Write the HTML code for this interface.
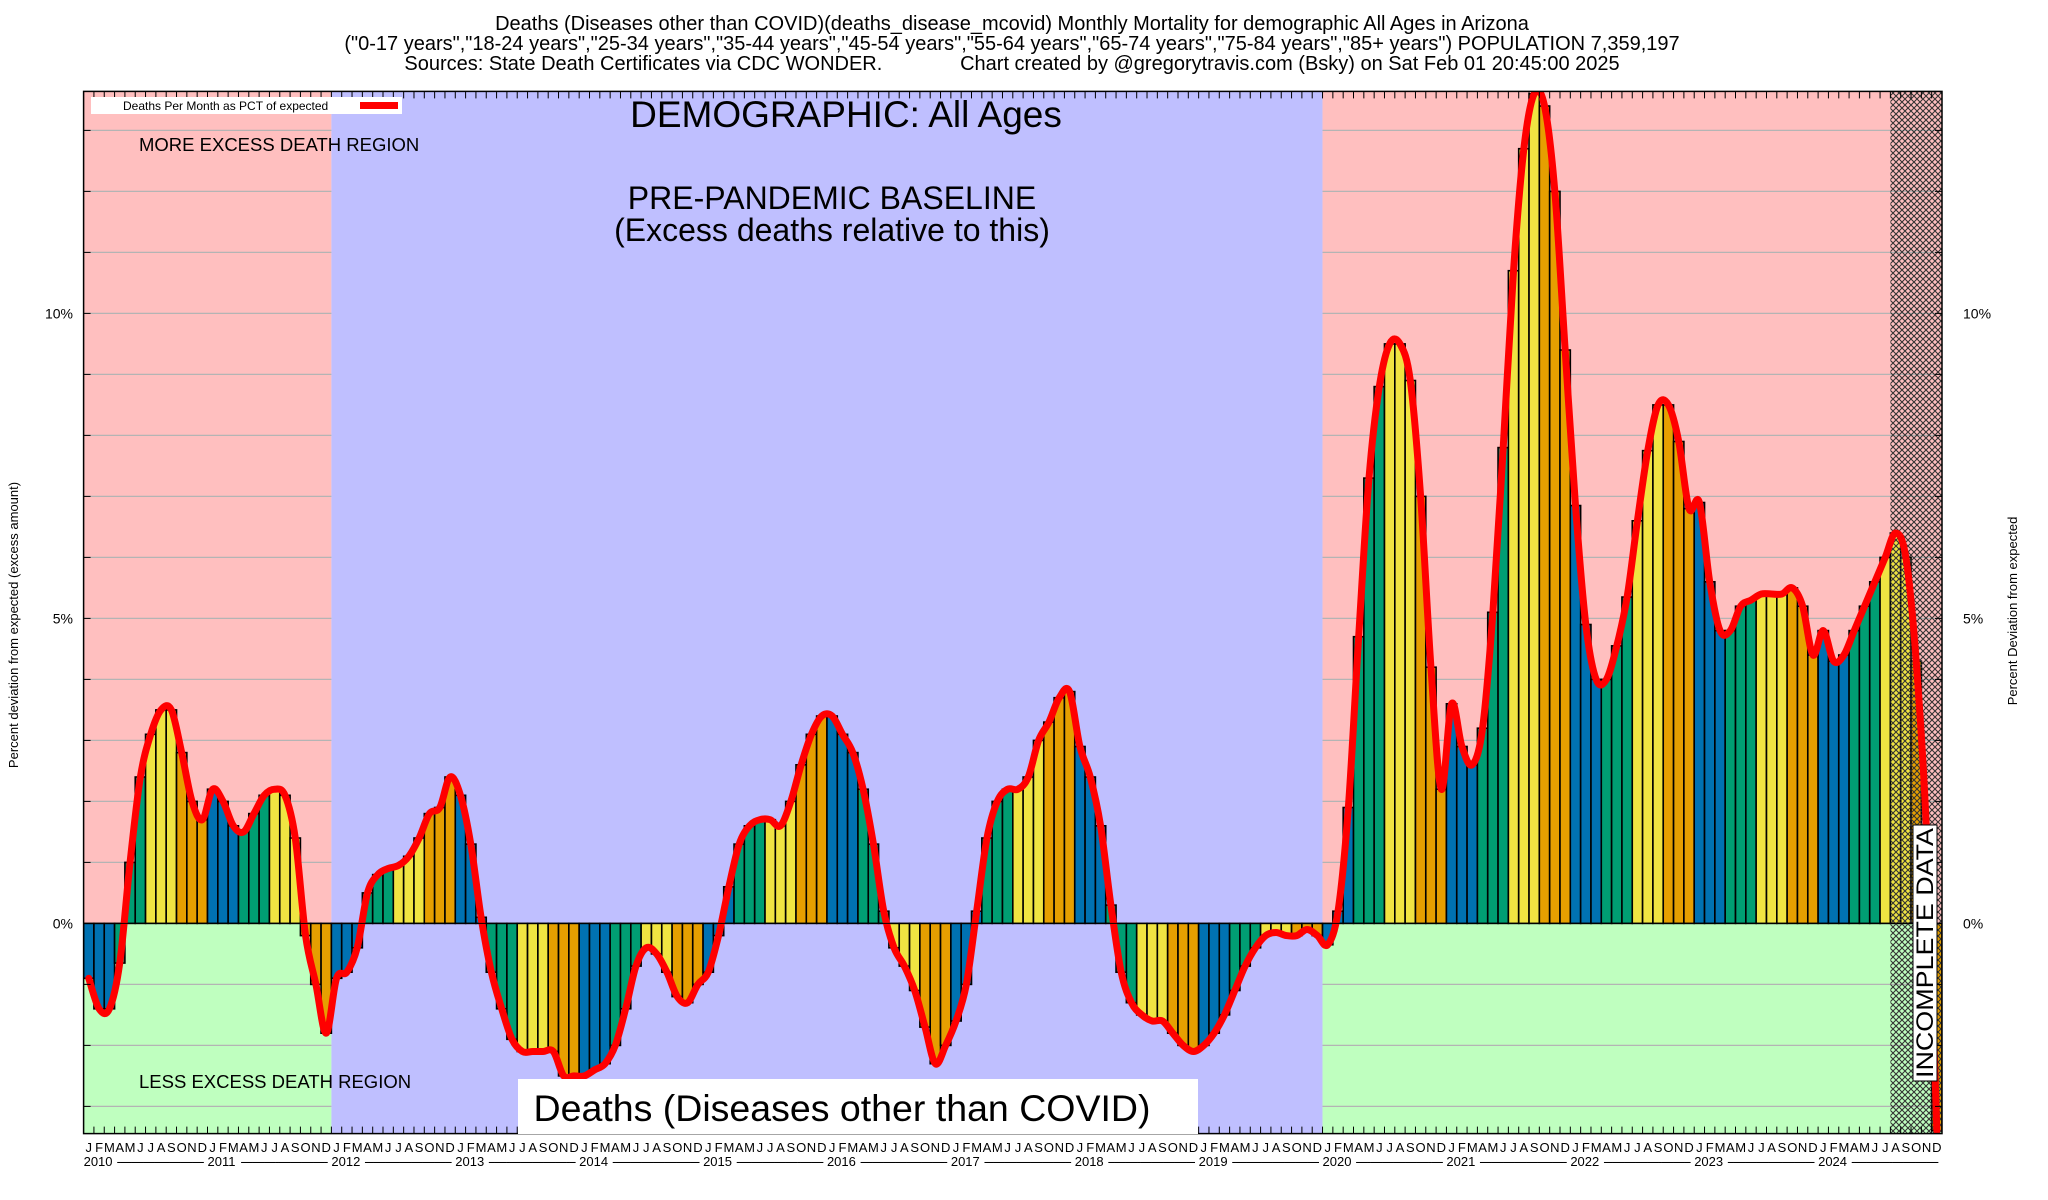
<!DOCTYPE html>
<html><head><meta charset="utf-8"><style>
body{margin:0;background:#fff;}
svg{display:block;font-family:"Liberation Sans",Arial,sans-serif;}
</style></head><body>
<svg id="chart" width="2048" height="1200" viewBox="0 0 2048 1200" xmlns="http://www.w3.org/2000/svg">
<defs>
<pattern id="hatch" width="6" height="6" patternUnits="userSpaceOnUse">
<path d="M0,0 L6,6 M6,0 L0,6" stroke="#333" stroke-width="1.1"/>
</pattern>
<clipPath id="plotclip"><rect x="84" y="91" width="1858" height="1043"/></clipPath>
</defs>
<g font-size="20" text-anchor="middle" fill="#000">
<text x="1012" y="30">Deaths (Diseases other than COVID)(deaths_disease_mcovid) Monthly Mortality for demographic All Ages in Arizona</text>
<text x="1012" y="50">("0-17 years","18-24 years","25-34 years","35-44 years","45-54 years","55-64 years","65-74 years","75-84 years","85+ years") POPULATION 7,359,197</text>
<text x="1012" y="70" xml:space="preserve">Sources: State Death Certificates via CDC WONDER.              Chart created by @gregorytravis.com (Bsky) on Sat Feb 01 20:45:00 2025</text>
</g>
<g id="bg" clip-path="url(#plotclip)"></g>
<g id="grid"></g>
<g id="bars" clip-path="url(#plotclip)"></g>
<g id="hatchg"></g>
<g id="line" clip-path="url(#plotclip)"></g>
<g id="axes"></g>
<g fill="#000">
<rect x="91" y="97" width="311" height="17" fill="#fff"/>
<text x="123" y="110" font-size="12">Deaths Per Month as PCT of expected</text>
<rect x="360" y="102" width="38" height="7" fill="#ff0000"/>
<text x="846" y="127" font-size="37" text-anchor="middle">DEMOGRAPHIC: All Ages</text>
<text x="832" y="209" font-size="32" text-anchor="middle">PRE-PANDEMIC BASELINE</text>
<text x="832" y="241" font-size="32" text-anchor="middle">(Excess deaths relative to this)</text>
<text x="139" y="151" font-size="18.5">MORE EXCESS DEATH REGION</text>
<text x="139" y="1088" font-size="18.5">LESS EXCESS DEATH REGION</text>
<rect x="518" y="1079" width="680" height="55" fill="#fff"/>
<text x="842" y="1121" font-size="37.5" text-anchor="middle">Deaths (Diseases other than COVID)</text>
<rect x="1913" y="825" width="24" height="256" fill="#fff" stroke="#000" stroke-width="1"/>
<text transform="translate(1933,1078) rotate(-90)" font-size="24" textLength="250" lengthAdjust="spacingAndGlyphs">INCOMPLETE DATA</text>
<text transform="translate(18,625) rotate(-90)" font-size="13" text-anchor="middle">Percent deviation from expected (excess amount)</text>
<text transform="translate(2017,611) rotate(-90)" font-size="13" text-anchor="middle">Percent Deviation from expected</text>
</g>
</svg>
<script>
const years = ["2010","2011","2012","2013","2014","2015","2016","2017","2018","2019","2020","2021","2022","2023","2024"];
const monthLetters = ["J","F","M","A","M","J","J","A","S","O","N","D"];
const yTicks = [0,5,10];
const yTickLabels = ["0%","5%","10%"];
const values = [
-0.9,-1.4,-1.4,-0.65,1.0,2.4,3.1,3.5,3.5,2.8,2.0,1.7,
2.2,2.0,1.6,1.5,1.8,2.1,2.2,2.1,1.4,-0.2,-1.0,-1.8,
-0.9,-0.8,-0.4,0.5,0.8,0.9,0.95,1.1,1.4,1.8,1.9,2.4,
2.1,1.3,0.1,-0.8,-1.4,-1.9,-2.1,-2.1,-2.1,-2.1,-2.5,-2.5,
-2.5,-2.4,-2.3,-2.0,-1.4,-0.7,-0.4,-0.5,-0.8,-1.2,-1.3,-1.0,
-0.8,-0.2,0.6,1.3,1.6,1.7,1.7,1.6,2.0,2.6,3.1,3.4,
3.4,3.1,2.8,2.2,1.3,0.2,-0.4,-0.7,-1.1,-1.7,-2.3,-2.0,
-1.6,-1.0,0.2,1.4,2.0,2.2,2.2,2.4,3.0,3.3,3.7,3.8,
2.9,2.4,1.6,0.3,-0.8,-1.3,-1.5,-1.6,-1.6,-1.8,-2.0,-2.1,
-2.0,-1.8,-1.5,-1.1,-0.7,-0.4,-0.2,-0.15,-0.2,-0.2,-0.1,-0.2,
-0.35,0.2,1.9,4.7,7.3,8.8,9.5,9.5,8.9,7.0,4.2,2.2,
3.6,2.9,2.6,3.2,5.1,7.8,10.7,12.7,13.6,13.4,12.0,9.4,
6.85,4.9,4.0,4.0,4.55,5.35,6.6,7.75,8.5,8.5,7.9,6.8,
6.9,5.6,4.8,4.8,5.2,5.3,5.4,5.4,5.4,5.5,5.2,4.4,
4.8,4.3,4.4,4.8,5.2,5.6,6.0,6.4,6.0,4.3,1.5,-3.4
];
const baselineStart = 24, baselineEnd = 120, incompleteStart = 175;

const NS="http://www.w3.org/2000/svg";
const L=83.6,R=1942,T=91.4,B=1133.6,Y0=923.4,PX=61.0;
const n=values.length, mw=(R-L)/n;
const x=i=>L+i*mw;
const y=v=>Y0-v*PX;
function mk(tag,attrs,parent){const e=document.createElementNS(NS,tag);for(const k in attrs)e.setAttribute(k,attrs[k]);parent.appendChild(e);return e;}
const bg=document.getElementById('bg'),grid=document.getElementById('grid'),bars=document.getElementById('bars'),hg=document.getElementById('hatchg'),lg=document.getElementById('line'),ax=document.getElementById('axes');
let r;
r=mk('rect',{x:L,y:T,width:x(baselineStart)-L,height:Y0-T,fill:'#ffbfbf'},bg);


r=mk('rect',{x:L,y:Y0,width:x(baselineStart)-L,height:B-Y0,fill:'#bfffbf'},bg);


r=mk('rect',{x:x(baselineStart),y:T,width:x(baselineEnd)-x(baselineStart),height:B-T,fill:'#bfbfff'},bg);


r=mk('rect',{x:x(baselineEnd),y:T,width:R-x(baselineEnd),height:Y0-T,fill:'#ffbfbf'},bg);


r=mk('rect',{x:x(baselineEnd),y:Y0,width:R-x(baselineEnd),height:B-Y0,fill:'#bfffbf'},bg);


for(let p=-3;p<=13;p++){
  if(p===0)continue;
  const yy=y(p);
  [[L,x(baselineStart)],[x(baselineEnd),R]].forEach(s=>{
    const g=mk('line',{x1:s[0],x2:s[1],y1:yy,y2:yy,stroke:'#b4b4b4','stroke-width':1.3},grid);
    
    
  });
  const t1=mk('line',{x1:L,x2:L+7,y1:yy,y2:yy,stroke:'#000'},ax);
  
  
  const t2=mk('line',{x1:R-7,x2:R,y1:yy,y2:yy,stroke:'#000'},ax);
  
  
}
const cols=['#0072b2','#009e73','#f0e442','#e69f00'];
values.forEach((v,i)=>{
  const m=i%12;
  const b=mk('rect',{x:x(i),y:Math.min(y(v),Y0),width:mw,height:Math.abs(y(v)-Y0),fill:cols[Math.floor(m/3)],stroke:'#000','stroke-width':1.6},bars);
  
  
});
r=mk('rect',{x:x(incompleteStart),y:T,width:R-x(incompleteStart),height:B-T,fill:'url(#hatch)'},hg);


const pts=values.map((v,i)=>[x(i)+mw/2,y(v)]);
let d='M'+pts[0][0]+','+pts[0][1];
for(let i=0;i<pts.length-1;i++){
  const p0=pts[Math.max(0,i-1)],p1=pts[i],p2=pts[i+1],p3=pts[Math.min(pts.length-1,i+2)];
  const c1=[p1[0]+(p2[0]-p0[0])/6,p1[1]+(p2[1]-p0[1])/6];
  const c2=[p2[0]-(p3[0]-p1[0])/6,p2[1]-(p3[1]-p1[1])/6];
  d+=` C${c1[0]},${c1[1]} ${c2[0]},${c2[1]} ${p2[0]},${p2[1]}`;
}
const path=mk('path',{d:d,fill:'none',stroke:'#ff0000','stroke-width':7,'stroke-linejoin':'round','stroke-linecap':'round'},lg);


r=mk('rect',{x:L,y:T,width:R-L,height:B-T,fill:'none',stroke:'#000','stroke-width':1.5},ax);


const zl=mk('line',{x1:L,x2:R,y1:Y0,y2:Y0,stroke:'#000','stroke-width':1},ax);


for(let i=1;i<n;i++){
  const t=mk('line',{x1:x(i),x2:x(i),y1:B,y2:B-7,stroke:'#000'},ax);
  
  
  const t2=mk('line',{x1:x(i),x2:x(i),y1:T,y2:T+7,stroke:'#000'},ax);
  
  
}
for(let i=0;i<n;i++){
  const t=mk('text',{x:x(i)+mw/2,y:1152,'font-size':13,'text-anchor':'middle'},ax);
  t.textContent=monthLetters[i%12];
  
  
}
years.forEach((yr,k)=>{
  const t=mk('text',{x:x(k*12),y:1166,'font-size':13},ax);
  t.textContent=yr;
  
  
  const ds=mk('text',{x:x(k*12)+33,y:1166,'font-size':13,textLength:mw*12-36,lengthAdjust:'spacing'},ax);
  ds.textContent='------------------------------';
  
  
});
yTicks.forEach((v,k)=>{
  const a=mk('text',{x:73,y:y(v)+5,'font-size':14,'text-anchor':'end'},ax);
  a.textContent=yTickLabels[k];
  
  
  const b=mk('text',{x:1963,y:y(v)+5,'font-size':14},ax);
  b.textContent=yTickLabels[k];
  
  
});
</script>
</body></html>
